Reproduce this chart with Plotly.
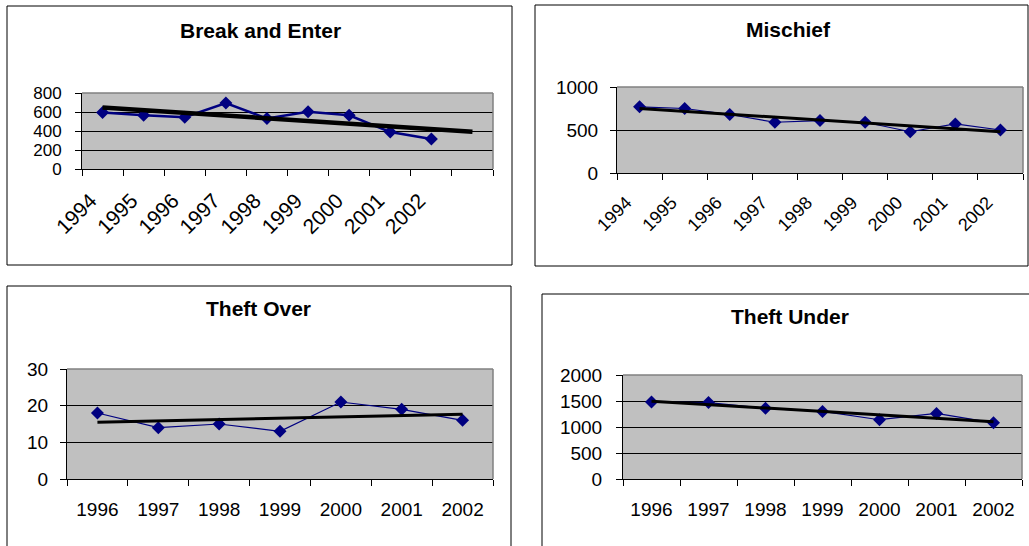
import numpy as np
import plotly.graph_objects as go

W, H = 1029, 546

# ---- data ----
be_years = ["1994", "1995", "1996", "1997", "1998", "1999", "2000", "2001", "2002"]
be_values = [595, 566, 545, 694, 531, 602, 566, 389, 315]
be_forecast = 1

mi_years = ["1994", "1995", "1996", "1997", "1998", "1999", "2000", "2001", "2002"]
mi_values = [770, 750, 680, 590, 610, 590, 480, 570, 500]

to_years = ["1996", "1997", "1998", "1999", "2000", "2001", "2002"]
to_values = [18, 14, 15, 13, 21, 19, 16]

tu_years = ["1996", "1997", "1998", "1999", "2000", "2001", "2002"]
tu_values = [1480, 1470, 1360, 1300, 1140, 1260, 1080]

titles = ["Break and Enter", "Mischief", "Theft Over", "Theft Under"]

panels = [
    dict(title=titles[0], years=be_years, vals=be_values, fc=be_forecast,
         frame=(7, 6, 512, 265), plot=(82, 93, 493, 169), tcent=(260, 30),
         ymax=800, dtick=200, angle=-45, yfont=17, xfont=21, lw=2.5, tw=4.5,
         ystand=10, xstand=4, xshift=-12),
    dict(title=titles[1], years=mi_years, vals=mi_values, fc=0,
         frame=(535, 5, 1028, 266), plot=(617, 87, 1023, 173), tcent=(788, 29),
         ymax=1000, dtick=500, angle=-45, yfont=19, xfont=18, lw=1.2, tw=3,
         ystand=8, xstand=5, xshift=-13),
    dict(title=titles[2], years=to_years, vals=to_values, fc=0,
         frame=(7, 286, 511, 560), plot=(67, 369, 493, 479), tcent=(258, 308),
         ymax=30, dtick=10, angle=0, yfont=19, xfont=19, lw=1.2, tw=3,
         ystand=8, xstand=7, xshift=0),
    dict(title=titles[3], years=tu_years, vals=tu_values, fc=0,
         frame=(542, 294, 1035, 560), plot=(623, 375, 1022, 479), tcent=(790, 316),
         ymax=2000, dtick=500, angle=0, yfont=19, xfont=19, lw=1.2, tw=3,
         ystand=10, xstand=7, xshift=0),
]

FONT = "Liberation Sans, Arial, sans-serif"
NAVY = "#000080"

fig = go.Figure()
shapes = []
annotations = []

def px(x):
    return x / W

def py(y):
    return 1 - y / H

for i, p in enumerate(panels, start=1):
    sfx = "" if i == 1 else str(i)
    xa, ya = "x" + sfx, "y" + sfx
    n = len(p["years"])
    ncat = n + p["fc"]
    idx = np.arange(1, n + 1)
    vals = np.array(p["vals"], dtype=float)

    fig.add_trace(go.Scatter(
        x=idx, y=vals, xaxis=xa, yaxis=ya, mode="lines+markers",
        line=dict(color=NAVY, width=p["lw"]),
        marker=dict(symbol="diamond", size=10, color=NAVY),
        showlegend=False, hoverinfo="x+y"))

    coef = np.polyfit(idx, vals, 1)
    xt = np.array([1, ncat])
    yt = np.polyval(coef, xt)
    fig.add_trace(go.Scatter(
        x=xt, y=yt, xaxis=xa, yaxis=ya, mode="lines",
        line=dict(color="black", width=p["tw"]),
        showlegend=False, hoverinfo="skip"))

    x0, y0, x1, y1 = p["plot"]
    fig.update_layout(**{
        "xaxis" + sfx: dict(
            domain=[px(x0), px(x1)], anchor=ya, type="linear", automargin=False,
            range=[0.5, ncat + 0.5], tickmode="array",
            tickvals=list(idx), ticktext=p["years"],
            ticks="outside", ticklen=6, tickcolor="rgba(0,0,0,0)",
            tickangle=p["angle"], ticklabelstandoff=p["xstand"],
            ticklabelshift=p["xshift"],
            tickfont=dict(family=FONT, size=p["xfont"], color="black"),
            showgrid=False, zeroline=False,
            showline=True, linecolor="black", linewidth=1,
            minor=dict(tickmode="array",
                       tickvals=[k + 0.5 for k in range(ncat + 1)],
                       ticks="outside", ticklen=6, tickcolor="black",
                       tickwidth=1, showgrid=False),
            fixedrange=True),
        "yaxis" + sfx: dict(
            domain=[py(y1), py(y0)], anchor=xa, automargin=False,
            range=[0, p["ymax"]], tickmode="linear", tick0=0, dtick=p["dtick"],
            ticks="outside", ticklen=6, tickcolor="black",
            ticklabelstandoff=p["ystand"],
            tickfont=dict(family=FONT, size=p["yfont"], color="black"),
            showgrid=True, gridcolor="black", gridwidth=1,
            zeroline=False, showline=True, linecolor="black", linewidth=1,
            fixedrange=True),
    })

    fx0, fy0, fx1, fy1 = p["frame"]
    shapes.append(dict(type="rect", xref="paper", yref="paper",
                       x0=px(fx0), x1=px(fx1), y0=py(fy1), y1=py(fy0),
                       line=dict(color="black", width=1), fillcolor="rgba(0,0,0,0)",
                       layer="below"))
    shapes.append(dict(type="line", xref="paper", yref="paper",
                       x0=px(x0), x1=px(x1), y0=py(y0), y1=py(y0),
                       line=dict(color="#808080", width=1.5), layer="above"))
    shapes.append(dict(type="line", xref="paper", yref="paper",
                       x0=px(x1), x1=px(x1), y0=py(y1), y1=py(y0),
                       line=dict(color="#808080", width=1.5), layer="above"))

    tx, ty = p["tcent"]
    annotations.append(dict(text="<b>" + p["title"] + "</b>", xref="paper", yref="paper",
                            x=px(tx), y=py(ty), xanchor="center", yanchor="middle",
                            showarrow=False,
                            font=dict(family=FONT, size=21, color="black")))

fig.update_layout(
    template="none",
    width=W, height=H, margin=dict(l=0, r=0, t=0, b=0, pad=0, autoexpand=False),
    paper_bgcolor="white", plot_bgcolor="#C0C0C0",
    shapes=shapes, annotations=annotations, showlegend=False,
    font=dict(family=FONT, color="black"),
)

fig.write_html("out.html", config={"displayModeBar": False},
               post_script="document.documentElement.style.margin='0';"
                           "document.body.style.margin='0';"
                           "document.body.style.padding='0';"
                           "document.body.style.overflow='hidden';")
